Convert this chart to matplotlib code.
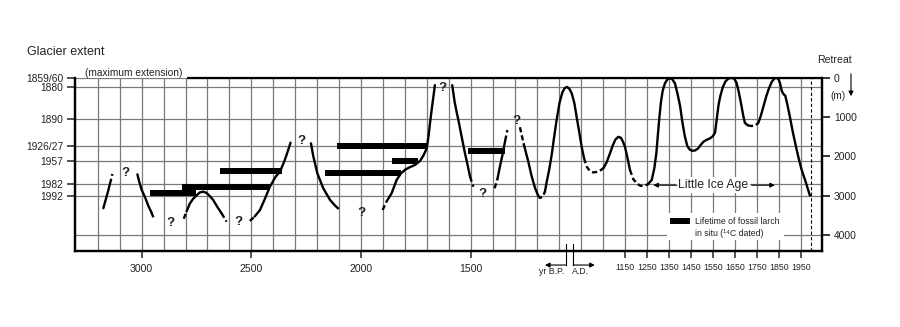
import matplotlib
matplotlib.use('Agg')
import matplotlib.pyplot as plt
import matplotlib.transforms as mtransforms
from matplotlib.patches import Rectangle
import numpy as np

plt.rcParams['font.family'] = ['Liberation Sans', 'DejaVu Sans']

# ---------------- data ----------------
EXTENT_LABELS = ['1859/60', '1880', '1890', '1926/27', '1957', '1982', '1992']
EXTENT_RETREAT = [0, 245, 1060, 1750, 2130, 2710, 3000]
RETREAT_TICKS = [0, 1000, 2000, 3000, 4000]

BP_TICKS = [3000, 2500, 2000, 1500]
BP_TICK_LABELS = ['3000', '2500', '2000', '1500']
AD_TICK_BP = [800, 700, 600, 500, 400, 300, 200, 100, 0]
AD_TICK_LABELS = ['1150', '1250', '1350', '1450', '1550', '1650', '1750', '1850', '1950']

# glacier curve segments (x = years BP, y = retreat in m)
SEG1_BP = [3174, 3168, 3160, 3152, 3144, 3138, 3133]
SEG1_RETREAT = [3320, 3200, 3040, 2880, 2700, 2570, 2450]

SEG2_BP = [3019, 3010, 3000, 2985, 2970, 2955, 2943]
SEG2_RETREAT = [2460, 2660, 2850, 3030, 3250, 3430, 3600]

SEG3_BP = [2808, 2795, 2780, 2765, 2749, 2735, 2719, 2705, 2690, 2674, 2655, 2636, 2613]
SEG3_RETREAT = [3588, 3400, 3200, 3080, 2990, 2920, 2900, 2930, 3010, 3112, 3290, 3450, 3664]

SEG4_BP = [2507, 2485, 2461, 2440, 2416, 2390, 2370, 2348, 2335, 2322]
SEG4_RETREAT = [3646, 3530, 3366, 3100, 2774, 2520, 2392, 2094, 1880, 1654]

SEG5_BP = [2229, 2218, 2200, 2173, 2142, 2120, 2101]
SEG5_RETREAT = [1670, 2010, 2433, 2815, 3112, 3250, 3350]

SEG6_BP = [1903, 1885, 1862, 1839, 1820, 1800, 1780, 1756, 1733, 1718, 1702, 1693, 1686, 1677, 1671, 1665]
SEG6_RETREAT = [3366, 3150, 2942, 2600, 2440, 2340, 2280, 2221, 2120, 1990, 1797, 1450, 1100, 700, 450, 190]

SEG7_BP = [1586, 1575, 1565, 1558, 1545, 1528, 1515, 1505, 1490]
SEG7_RETREAT = [190, 620, 900, 1076, 1450, 1924, 2250, 2519, 2773]

SEG8_BP = [1393, 1380, 1369, 1355, 1345, 1335]
SEG8_RETREAT = [2815, 2570, 2265, 1900, 1600, 1330]

SEG9_BP = [1278, 1260, 1240, 1225, 1209, 1195, 1187, 1175, 1164, 1156, 1145, 1133, 1122, 1111,
           1098, 1085, 1075, 1064, 1053, 1042, 1030, 1020, 1008, 997, 986, 974, 960, 945, 930,
           915, 898, 883, 868, 855, 843, 830, 818, 808, 800, 790, 777, 762, 746, 730, 713, 695,
           678, 666, 657, 650, 643, 636, 628, 618, 606, 595, 584, 572, 561, 549, 538, 527, 516,
           505, 493, 480, 467, 455, 443, 428, 413, 400, 390, 382, 374, 366, 355, 343, 330, 314,
           302, 292, 282, 272, 262, 254, 240, 223, 206, 193, 182, 170, 157, 145, 132, 120, 109,
           100, 93, 86, 78, 70, 60, 49, 36, 22, 11, -3, -20, -32, -42]
SEG9_RETREAT = [1260, 1700, 2130, 2500, 2810, 3000, 3060, 3030, 2900, 2650, 2350, 1950, 1500, 1080,
                650, 380, 270, 235, 280, 400, 650, 990, 1380, 1756, 2050, 2265, 2370, 2410, 2400,
                2370, 2305, 2150, 1924, 1720, 1570, 1505, 1530, 1640, 1756, 2000, 2349, 2580, 2690,
                2750, 2756, 2710, 2603, 2300, 1924, 1450, 1000, 620, 330, 142, 40, 15, 40, 150, 400,
                720, 1150, 1500, 1740, 1830, 1860, 1850, 1800, 1710, 1630, 1580, 1545, 1490, 1400,
                1050, 700, 470, 250, 100, 25, 0, 30, 130, 360, 640, 950, 1150, 1215, 1229, 1215,
                1150, 980, 740, 480, 280, 110, 20, 0, 50, 160, 340, 420, 460, 700, 1000, 1380, 1740,
                2010, 2320, 2603, 2820, 3000]

SEGMENTS = [(SEG1_BP, SEG1_RETREAT), (SEG2_BP, SEG2_RETREAT), (SEG3_BP, SEG3_RETREAT),
            (SEG4_BP, SEG4_RETREAT), (SEG5_BP, SEG5_RETREAT), (SEG6_BP, SEG6_RETREAT),
            (SEG7_BP, SEG7_RETREAT), (SEG8_BP, SEG8_RETREAT), (SEG9_BP, SEG9_RETREAT)]

# uncertain (dotted) stretches of the curve, in years BP
DOTTED_START = [3145, 2960, 2810, 2628, 2510, 2125, 1905, 1506, 1395, 1347, 1280, 1200, 982, 770, 242]
DOTTED_END = [3130, 2940, 2793, 2610, 2483, 2100, 1884, 1488, 1378, 1334, 1258, 1162, 893, 690, 188]

# fossil larch lifetimes (years BP) and their level (m)
LARCH_START = [2962, 2817, 2641, 2109, 2165, 1862, 1513]
LARCH_END = [2750, 2416, 2362, 1702, 1821, 1741, 1346]
LARCH_RETREAT = [2926, 2773, 2366, 1738, 2433, 2112, 1858]

QUESTION_BP = [3075, 2868, 2560, 2274, 1998, 1631, 1449, 1296]
QUESTION_RETREAT = [2433, 3690, 3664, 1603, 3450, 270, 2960, 1094]

# ---------------- figure ----------------
TXT = '#222222'
GRID = '#7a7a7a'
fig = plt.figure(figsize=(9, 3.27), dpi=100)
ax = fig.add_axes([75 / 900, 76 / 327, 747 / 900, 173.3 / 327])
ax.set_xlim(3303, -97)
ax.set_ylim(4410, 0)

# ticks / grid
ax.set_xticks(BP_TICKS + AD_TICK_BP)
ax.set_xticklabels(BP_TICK_LABELS + AD_TICK_LABELS)
for lab in ax.get_xticklabels()[len(BP_TICKS):]:
    lab.set_fontsize(6.3)
for lab in ax.get_xticklabels()[:len(BP_TICKS)]:
    lab.set_fontsize(7.6)
ax.set_xticks(np.arange(0, 3201, 100), minor=True)
ax.set_yticks(EXTENT_RETREAT)
ax.set_yticklabels(EXTENT_LABELS, fontsize=7.4, color=TXT)
ax.tick_params(axis='x', which='major', direction='out', length=5, width=1.1, pad=4, colors=TXT)
ax.tick_params(axis='x', which='minor', length=0)
ax.tick_params(axis='y', direction='out', length=6, width=1.1, pad=2.5, colors=TXT)
for t in ax.get_xticklines() + ax.get_yticklines():
    t.set_color('black')
ax.grid(axis='x', which='both', color=GRID, lw=0.9, zorder=0)
ax.grid(axis='y', which='major', color=GRID, lw=0.9, zorder=0)
ax.axhline(RETREAT_TICKS[-1], color=GRID, lw=0.9, zorder=0)
ax.set_axisbelow(True)

ax2 = ax.twinx()
ax2.set_ylim(4410, 0)
ax2.set_yticks(RETREAT_TICKS)
ax2.set_yticklabels([str(v) for v in RETREAT_TICKS], fontsize=7.4, color=TXT)
ax2.tick_params(axis='y', direction='out', length=6, width=1.1, pad=2.5)

for a in (ax, ax2):
    for s in a.spines.values():
        s.set_linewidth(1.6)
    a.spines['top'].set_visible(False)
ax.plot([0.1495, 1.0], [1.0, 1.0], transform=ax.transAxes, color='black', lw=1.6,
        clip_on=False, solid_capstyle='butt')

# dashed line at present
ax.axvline(-45, color='black', lw=0.8, ls=(0, (3, 2)), zorder=2)


def in_dotted(x):
    for s, e in zip(DOTTED_START, DOTTED_END):
        if e <= x <= s:
            return True
    return False


# curve
for bp, rt in SEGMENTS:
    bp = np.asarray(bp, float)
    rt = np.asarray(rt, float)
    n = len(bp)
    i = 0
    while i < n - 1:
        style = in_dotted(0.5 * (bp[i] + bp[i + 1]))
        j = i
        while j < n - 1 and in_dotted(0.5 * (bp[j] + bp[j + 1])) == style:
            j += 1
        ls = (0, (2.2, 1.3)) if style else '-'
        ax.plot(bp[i:j + 1], rt[i:j + 1], color='black', lw=1.7, ls=ls,
                solid_joinstyle='round', solid_capstyle='round', zorder=4)
        i = j

# larch bars
ls_ = np.asarray(LARCH_START)
le_ = np.asarray(LARCH_END)
ax.barh(LARCH_RETREAT, ls_ - le_, left=le_, height=150, color='black', zorder=3)

# question marks
for x, y in zip(QUESTION_BP, QUESTION_RETREAT):
    ax.text(x, y, '?', ha='center', va='center', fontsize=9.5, fontweight='bold',
            color=TXT, zorder=5)

# Little Ice Age
ax.text(400, 2735, 'Little Ice Age', ha='center', va='center', fontsize=8.8, color=TXT,
        bbox=dict(fc='white', ec='none', pad=1.5), zorder=3)
ax.annotate('', xy=(671, 2735), xytext=(563, 2735),
            arrowprops=dict(arrowstyle='-|>', color='black', lw=0.8, mutation_scale=7,
                            shrinkA=0, shrinkB=0), zorder=3)
ax.annotate('', xy=(117, 2735), xytext=(223, 2735),
            arrowprops=dict(arrowstyle='-|>', color='black', lw=0.8, mutation_scale=7,
                            shrinkA=0, shrinkB=0), zorder=3)

# legend block
ax.add_patch(Rectangle((75, 3440), 535, 690, fc='white', ec='none', zorder=1))
ax.add_patch(Rectangle((504, 3575), 91, 150, fc='black', ec='none', zorder=3))
ax.text(483, 3650, 'Lifetime of fossil larch', ha='left', va='center', fontsize=6.3,
        color=TXT, zorder=3)
ax.text(481, 3965, 'in situ (\u00b9\u2074C dated)', ha='left', va='center', fontsize=6.3,
        color=TXT, zorder=3)

# yr B.P. / A.D. markers
tr = mtransforms.blended_transform_factory(ax.transData, ax.transAxes)
ax.plot([1070, 1070], [0.039, -0.081], transform=tr, color='black', lw=0.8, clip_on=False)
ax.plot([1035, 1035], [0.039, -0.081], transform=tr, color='black', lw=0.8, clip_on=False)
ax.annotate('', xy=(1164, -0.081), xytext=(1070, -0.081), xycoords=tr, textcoords=tr,
            arrowprops=dict(arrowstyle='-|>', color='black', lw=0.8, mutation_scale=7,
                            shrinkA=0, shrinkB=0), annotation_clip=False)
ax.annotate('', xy=(937, -0.081), xytext=(1035, -0.081), xycoords=tr, textcoords=tr,
            arrowprops=dict(arrowstyle='-|>', color='black', lw=0.8, mutation_scale=7,
                            shrinkA=0, shrinkB=0), annotation_clip=False)
ax.text(1133, -0.118, 'yr B.P.', transform=tr, ha='center', va='center', fontsize=6.3, color=TXT)
ax.text(1002, -0.118, 'A.D.', transform=tr, ha='center', va='center', fontsize=6.3, color=TXT)

# header texts
fig.text(26.7 / 900, 1 - 52 / 327, 'Glacier extent', ha='left', va='center', fontsize=9, color=TXT)
ax.text(10 / 747, 1.0, '(maximum extension)', transform=ax.transAxes, ha='left', va='bottom',
        fontsize=7.3, color=TXT)
fig.text(834 / 900, 1 - 60 / 327, 'Retreat', ha='center', va='center', fontsize=7.6, color=TXT)
fig.text(838 / 900, 1 - 96 / 327, '(m)', ha='center', va='center', fontsize=7.2, color=TXT)
fig.add_artist(matplotlib.patches.FancyArrowPatch((851 / 900, 1 - 71 / 327), (851 / 900, 1 - 99 / 327),
               transform=fig.transFigure, arrowstyle='-|>', mutation_scale=7, color='black', lw=0.8))

fig.savefig('out.png', dpi=100, facecolor='white')
